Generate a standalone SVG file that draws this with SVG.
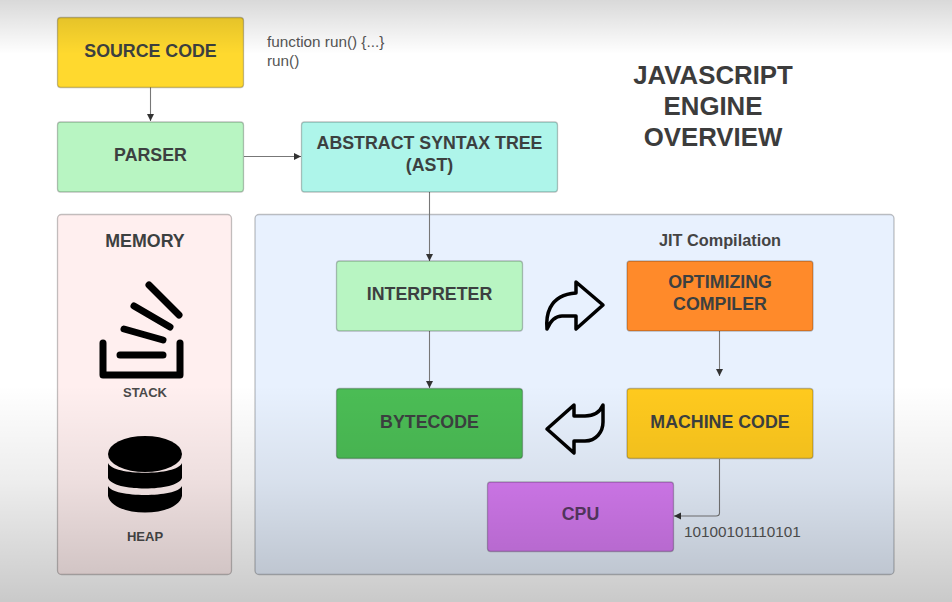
<svg xmlns="http://www.w3.org/2000/svg" width="952" height="602" viewBox="0 0 952 602">
<style>
.n{stroke:#000;stroke-opacity:.24;stroke-width:1.3}
text{font-family:"Liberation Sans",Arial,sans-serif;text-anchor:middle}
.b{font-weight:700;font-size:17.800px;fill:#3c4040}
.r{font-size:15.300px;fill:#555;text-anchor:start}
.t{font-weight:700;font-size:25.800px;fill:#3c3c3c}
.s{font-weight:700;font-size:13px;fill:#4a4a4a}
.c{fill:none;stroke:#777;stroke-width:1.100}
.k{fill:none;stroke:#000;stroke-linecap:round;stroke-linejoin:round}
</style>
<defs>
<marker id="a" markerWidth="8" markerHeight="8" refX="7" refY="3.500" orient="auto" markerUnits="userSpaceOnUse"><path d="M0 0L7 3.500L0 7Z" fill="#333"/></marker>
<linearGradient id="sh" x1="0" y1="0" x2="0" y2="1">
<stop offset="0" stop-color="#000" stop-opacity=".15"/>
<stop offset=".09" stop-color="#000" stop-opacity="0"/>
<stop offset=".64" stop-color="#000" stop-opacity="0"/>
<stop offset=".8" stop-color="#000" stop-opacity=".07"/>
<stop offset="1" stop-color="#000" stop-opacity=".21"/>
</linearGradient>
</defs>
<rect width="952" height="602" fill="#fff"/>
<g id="memory"><rect class="n" x="57.500" y="214.500" width="174" height="360" rx="4" fill="#ffefef"/><text class="b" x="145" y="247">MEMORY</text>
<g id="stack-icon"><path class="k" stroke-width="7" d="M103 343V375H180V343"/><path class="k" stroke-width="7" d="M120 355H163M124 329L163 340M134 306L170 327M149 285L179 315"/></g>
<text class="s" x="145" y="397">STACK</text>
<g id="heap-icon"><ellipse cx="145" cy="454" rx="37" ry="18"/><path d="M108 463C113 476 177 476 182 463V478C177 492 113 492 108 478Z"/><path d="M108 486C113 498 177 498 182 486V496C177 518 113 518 108 496Z"/></g>
<text class="s" x="145" y="541">HEAP</text></g>
<g id="jit-panel"><rect class="n" x="255" y="214.500" width="639" height="360" rx="4" fill="#e8f1fe"/><text x="720" y="246" style="font-weight:700;font-size:16.300px;fill:#444">JIT Compilation</text></g>
<g id="connectors">
<path class="c" d="M150.500 87V121" marker-end="url(#a)"/>
<path class="c" d="M244 156.500H301" marker-end="url(#a)"/>
<path class="c" d="M429.500 192V261" marker-end="url(#a)"/>
<path class="c" d="M429.500 331V388" marker-end="url(#a)"/>
<path class="c" d="M719.500 331V376" marker-end="url(#a)"/>
<path class="c" d="M719.500 459V513Q719.500 516 716 516H674" marker-end="url(#a)"/>
</g>
<g id="source-code"><rect class="n" x="57.500" y="17.500" width="186" height="70" rx="3" fill="#ffd92e"/><text class="b" x="150.500" y="56.500">SOURCE CODE</text></g>
<g id="source-note"><text class="r" x="267" y="47">function run() {...}</text><text class="r" x="267" y="66">run()</text></g>
<g id="title"><text class="t" x="713" y="84">JAVASCRIPT</text><text class="t" x="713" y="115">ENGINE</text><text class="t" x="713" y="146">OVERVIEW</text></g>
<g id="parser"><rect class="n" x="57.500" y="122" width="186" height="70" rx="3" fill="#b8f5c2"/><text class="b" x="150.500" y="161">PARSER</text></g>
<g id="ast"><rect class="n" x="301.500" y="122" width="256" height="70" rx="3" fill="#aef5ea"/><text class="b" x="429.500" y="149">ABSTRACT SYNTAX TREE</text><text class="b" x="429.500" y="171">(AST)</text></g>
<g id="interpreter"><rect class="n" x="336.500" y="261" width="186" height="70" rx="3" fill="#b8f5c2"/><text class="b" x="429.500" y="300">INTERPRETER</text></g>
<g id="optimizing-compiler"><rect class="n" x="627" y="261" width="186" height="70" rx="3" fill="#ff8a2a"/><text class="b" x="720" y="288">OPTIMIZING</text><text class="b" x="720" y="310">COMPILER</text></g>
<g id="bytecode"><rect class="n" x="336.500" y="388.500" width="186" height="70" rx="3" fill="#4bbd55"/><text class="b" x="429.500" y="427.500">BYTECODE</text></g>
<g id="machine-code"><rect class="n" x="627" y="388.500" width="186" height="70" rx="3" fill="#ffca1e"/><text class="b" x="720" y="427.500">MACHINE CODE</text></g>
<g id="cpu"><rect class="n" x="487.500" y="482" width="186" height="69.500" rx="3" fill="#d87cf4"/><text class="b" x="580.500" y="520" style="fill:#5a3a66">CPU</text></g>
<g id="cpu-note"><text class="r" x="684" y="537">10100101110101</text></g>
<g id="arrow-forward"><path class="k" stroke-width="3.500" d="M576 282L603 305L576 329V316H562C554 316 550 322 547 329C546 318 547 295 576 293Z"/></g>
<g id="arrow-back"><path class="k" stroke-width="3.500" d="M574 405L547 429L574 453V441H585C596 441 603 432 603 422V405C600 412 595 416 585 416H574Z"/></g>
<rect id="shade" width="952" height="602" fill="url(#sh)"/>
</svg>
